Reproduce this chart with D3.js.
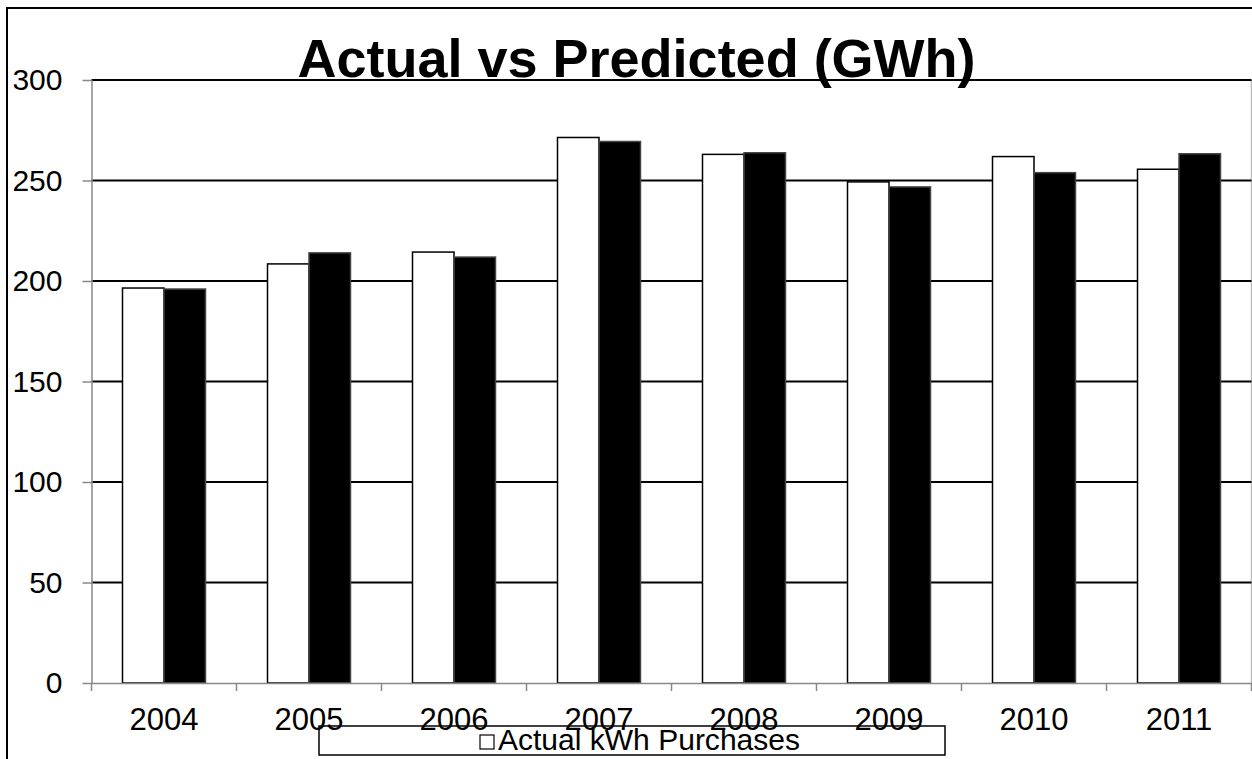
<!DOCTYPE html>
<html>
<head>
<meta charset="utf-8">
<script src="https://cdn.jsdelivr.net/npm/d3@7"></script>
<style>
  html, body { margin: 0; padding: 0; background: #fff; }
  svg { display: block; font-family: "Liberation Sans", Arial, sans-serif; }
</style>
</head>
<body>
<svg id="chart" width="1252" height="759"></svg>
<script>
const categories = ["2004", "2005", "2006", "2007", "2008", "2009", "2010", "2011"];
const seriesNames = ["Actual kWh Purchases", "Predicted kWh Purchases"];
const actual = [196.5, 208.5, 214.4, 271.4, 263.0, 249.3, 261.9, 255.6];
const predicted = [196.0, 214.0, 211.9, 269.4, 263.8, 246.8, 253.9, 263.3];
const yTicks = [0, 50, 100, 150, 200, 250, 300];
const title = "Actual vs Predicted (GWh)";

const svg = d3.select("#chart");
const W = 1252, H = 759;
const plot = { left: 91.5, right: 1251.5, top: 80, bottom: 683 };

// outer chart border (cut off at right/bottom)
svg.append("rect")
  .attr("x", 7).attr("y", 8)
  .attr("width", W + 20).attr("height", H + 20)
  .attr("fill", "#fff").attr("stroke", "#000").attr("stroke-width", 2);

const x0 = d3.scaleBand().domain(categories).range([plot.left, plot.right]).padding(0);
const x1 = d3.scaleBand().domain(seriesNames).range([0, x0.bandwidth()])
  .paddingInner(0).paddingOuter(0.747);
const y = d3.scaleLinear().domain([0, 300]).range([plot.bottom, plot.top]);

// plot area right edge
svg.append("line")
  .attr("x1", plot.right).attr("x2", plot.right)
  .attr("y1", plot.top).attr("y2", plot.bottom)
  .attr("stroke", "#bbb").attr("stroke-width", 1.5);

// gridlines
svg.append("g").selectAll("line")
  .data(yTicks.filter(d => d > 0))
  .join("line")
  .attr("x1", plot.left).attr("x2", plot.right)
  .attr("y1", d => y(d)).attr("y2", d => y(d))
  .attr("stroke", "#000").attr("stroke-width", 2);

// title
svg.append("text")
  .attr("x", 636.5).attr("y", 77)
  .attr("text-anchor", "middle")
  .attr("font-weight", "bold")
  .attr("font-size", 54)
  .attr("fill", "#000")
  .text(title);

// bars
const data = categories.map((c, i) => ({ c, vals: [actual[i], predicted[i]] }));
const groups = svg.append("g").selectAll("g")
  .data(data).join("g")
  .attr("transform", d => `translate(${x0(d.c)},0)`);
groups.selectAll("rect")
  .data(d => d.vals.map((v, j) => ({ s: seriesNames[j], v, j })))
  .join("rect")
  .attr("x", d => x1(d.s))
  .attr("width", x1.bandwidth())
  .attr("y", d => y(d.v))
  .attr("height", d => y(0) - y(d.v))
  .attr("fill", d => d.j === 0 ? "#fff" : "#000")
  .attr("stroke", d => d.j === 0 ? "#000" : "#444")
  .attr("stroke-width", 1.5);

// y axis
const yAxis = d3.axisLeft(y).tickValues(yTicks).tickSize(9).tickSizeOuter(0).tickPadding(20);
const gy = svg.append("g").attr("transform", `translate(${plot.left},0)`).call(yAxis);
gy.select(".domain").attr("stroke", "#888").attr("stroke-width", 1.5);
gy.selectAll(".tick line").attr("stroke", "#888").attr("stroke-width", 1.5);
gy.selectAll(".tick text")
  .attr("font-size", 30).attr("fill", "#000")
  .attr("font-family", '"Liberation Sans", Arial, sans-serif');

// x axis
const gx = svg.append("g").attr("transform", `translate(0,${plot.bottom})`)
  .call(d3.axisBottom(x0).tickSize(0).tickPadding(0));
gx.select(".domain").attr("stroke", "#888").attr("stroke-width", 1.5);
gx.selectAll(".tick text")
  .attr("font-size", 31).attr("fill", "#000")
  .attr("y", 47).attr("dy", 0)
  .attr("font-family", '"Liberation Sans", Arial, sans-serif');
// category boundary ticks
const bounds = categories.map(c => x0(c)).concat([plot.right]);
gx.append("g").selectAll("line").data(bounds).join("line")
  .attr("x1", d => d).attr("x2", d => d)
  .attr("y1", 0).attr("y2", 8)
  .attr("stroke", "#888").attr("stroke-width", 1.5);

// legend (partially visible)
const lg = svg.append("g");
lg.append("rect")
  .attr("x", 319).attr("y", 726).attr("width", 626).attr("height", 29)
  .attr("fill", "none").attr("stroke", "#000").attr("stroke-width", 1.5);
lg.append("rect")
  .attr("x", 480).attr("y", 735).attr("width", 14).attr("height", 14)
  .attr("fill", "#fff").attr("stroke", "#000").attr("stroke-width", 1.2);
lg.append("text")
  .attr("x", 498).attr("y", 750)
  .attr("font-size", 29).attr("fill", "#000")
  .attr("textLength", 302).attr("lengthAdjust", "spacingAndGlyphs")
  .text(seriesNames[0]);
</script>
</body>
</html>
